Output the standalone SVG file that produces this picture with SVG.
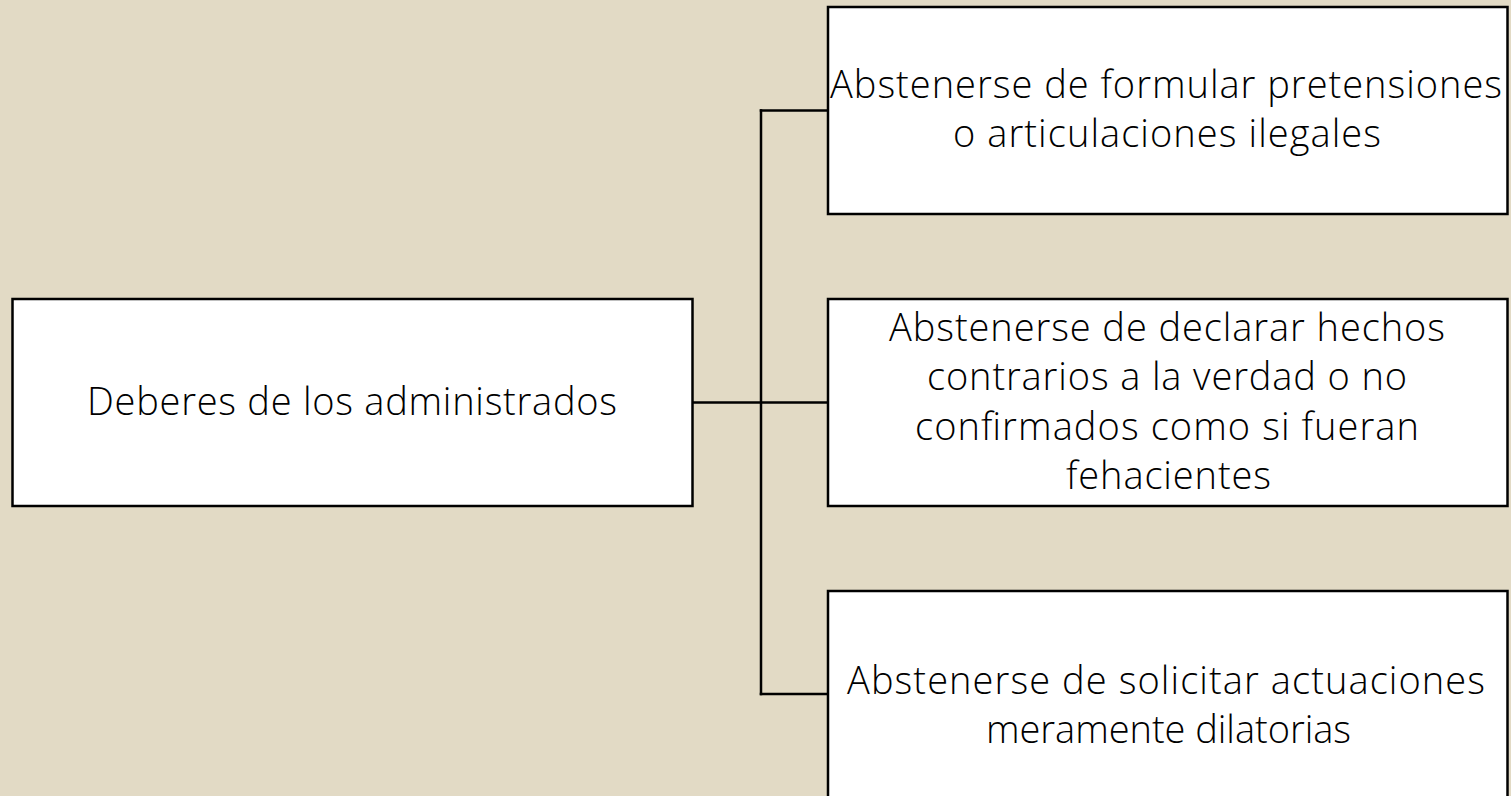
<svg xmlns="http://www.w3.org/2000/svg" width="1511" height="796" viewBox="0 0 1511 796">
<style>
.box{fill:#ffffff;stroke:#000000;stroke-width:2.5}
.conn{fill:none;stroke:#000000;stroke-width:2.5;stroke-linecap:square}
.t{font-family:"Open Sans","Liberation Sans",sans-serif;font-weight:300;font-size:38px;fill:#000000;text-anchor:middle}
</style>
<rect x="0" y="0" width="1511" height="796" fill="#e2dac5"/>
<g id="connectors">
<path class="conn" d="M692.5 402.5 H828"/>
<path class="conn" d="M761 110.5 V694"/>
<path class="conn" d="M761 110.5 H828"/>
<path class="conn" d="M761 694 H828"/>
</g>
<g id="node-root">
<rect class="box" x="12.5" y="299" width="680" height="207"/>
<text class="t" x="352" y="415" textLength="530">Deberes de los administrados</text>
</g>
<g id="node-1">
<rect class="box" x="828" y="7" width="679.5" height="207"/>
<text class="t" x="1166" y="98" textLength="672">Abstenerse de formular pretensiones</text>
<text class="t" x="1167" y="147" textLength="428">o articulaciones ilegales</text>
</g>
<g id="node-2">
<rect class="box" x="828" y="299" width="679.5" height="207"/>
<text class="t" x="1167" y="340.7" textLength="556">Abstenerse de declarar hechos</text>
<text class="t" x="1167" y="390" textLength="480">contrarios a la verdad o no</text>
<text class="t" x="1167" y="439.5" textLength="504">confirmados como si fueran</text>
<text class="t" x="1168.5" y="489" textLength="205">fehacientes</text>
</g>
<g id="node-3">
<rect class="box" x="828" y="591" width="679.5" height="229"/>
<text class="t" x="1166" y="694" textLength="638">Abstenerse de solicitar actuaciones</text>
<text class="t" x="1168.5" y="743" textLength="365">meramente dilatorias</text>
</g>
</svg>
